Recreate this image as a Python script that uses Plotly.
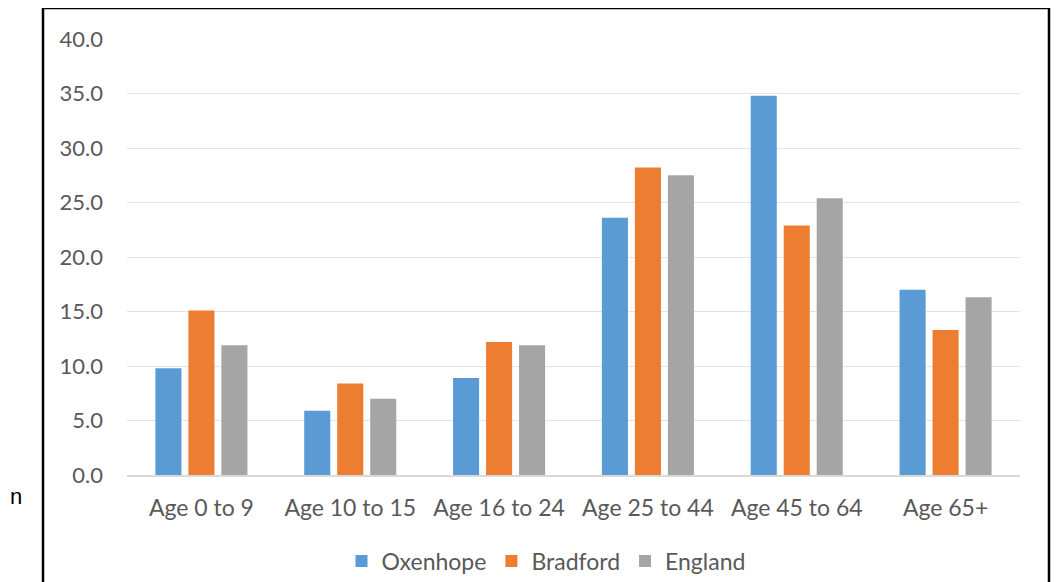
import plotly.graph_objects as go

categories = ["Age 0 to 9", "Age 10 to 15", "Age 16 to 24", "Age 25 to 44", "Age 45 to 64", "Age 65+"]
oxenhope = [9.8, 5.9, 8.9, 23.6, 34.8, 17.0]
bradford = [15.1, 8.4, 12.2, 28.2, 22.9, 13.3]
england = [11.9, 7.0, 11.9, 27.5, 25.4, 16.3]
series_names = ["Oxenhope", "Bradford", "England"]
colors = ["#5B9BD5", "#ED7D31", "#A5A5A5"]
y_ticks = [0, 5, 10, 15, 20, 25, 30, 35, 40]

# page body has an 8px margin, so target pixel p is figure pixel p - 8
OFF = 8
W, H = 1061, 582
L, T = 127 - OFF, 39 - OFF
R = W - (1020 - OFF)
B = H - (475 - OFF)
pw, ph = W - L - R, H - T - B


def px_x(px):
    return (px - OFF - L) / pw


def px_y(py):
    return (H - B - (py - OFF)) / ph


fig = go.Figure()
for name, vals, c in zip(series_names, [oxenhope, bradford, england], colors):
    fig.add_trace(go.Bar(x=categories, y=vals, name=name, marker=dict(color=c, line=dict(width=0))))

font = "Lato, 'Open Sans', sans-serif"
fig.update_layout(
    width=W, height=H,
    margin=dict(l=L, r=R, t=T, b=B, pad=0, autoexpand=False),
    paper_bgcolor="white", plot_bgcolor="white",
    barmode="group", bargap=0.335, bargroupgap=0.21,
    font=dict(family=font, size=23, color="#595959"),
    showlegend=True,
    legend=dict(orientation="h", x=px_x(546), xanchor="center", y=px_y(561), yanchor="middle",
                font=dict(size=23, color="#595959"), itemwidth=30, tracegroupgap=0,
                bgcolor="rgba(0,0,0,0)"),
    xaxis=dict(showgrid=False, showline=True, linecolor="#d9d9d9", linewidth=1.5,
               ticks="", ticklabelstandoff=12, tickfont=dict(size=23, color="#595959")),
    yaxis=dict(range=[0, 40], tickvals=y_ticks, tickformat=".1f", showgrid=True,
               gridcolor="#e3e3e3", gridwidth=1, zeroline=False, showline=False,
               ticks="", ticklabelstandoff=23, tickfont=dict(size=22, color="#595959")),
)

# outer frame (black border of the embedded chart)
fig.add_shape(type="rect", xref="paper", yref="paper",
              x0=px_x(43), x1=px_x(1049), y0=px_y(620), y1=px_y(8),
              line=dict(color="black", width=2.5), fillcolor="rgba(0,0,0,0)", layer="above")

fig.add_annotation(text="n", xref="paper", yref="paper", x=px_x(8), y=px_y(496),
                   xanchor="left", yanchor="middle", showarrow=False,
                   font=dict(family="'Liberation Sans', Arial, sans-serif", size=22, color="black"))

fig.write_html("out.html")
